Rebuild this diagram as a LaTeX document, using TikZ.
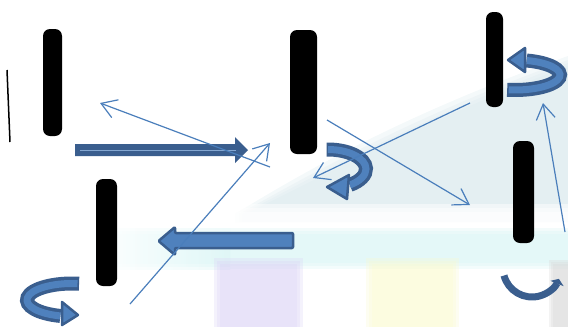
\documentclass[tikz,border=0pt]{standalone}
\usetikzlibrary{arrows.meta}
\definecolor{arrowdark}{HTML}{3A5E8E}
\definecolor{arrowlight}{HTML}{4F81BD}
\definecolor{linkblue}{HTML}{4A7EBB}
\definecolor{bghill}{HTML}{DCEAEE}
\definecolor{bgcyan}{HTML}{D6F4F4}
\definecolor{bglilac}{HTML}{DCD4F6}
\definecolor{bgyellow}{HTML}{FAFAD0}
\definecolor{bggray}{HTML}{D8D8D8}
\begin{document}
\begin{tikzpicture}[x=1pt,y=-1pt,
  bar/.style={fill=black, rounded corners=7pt, inner sep=0pt},
  link/.style={draw=linkblue, line width=1.2pt,
    -{Straight Barb[length=15pt,width=19pt,line width=1.2pt]}},
  bandout/.style={draw=arrowdark, line width=14pt},
  bandin/.style={draw=arrowlight, line width=7pt},
  uhead/.style={fill=arrowlight, draw=arrowdark, line width=2.5pt, line join=round},
  blockdark/.style={fill=arrowdark},
  blocklight/.style={fill=arrowlight, draw=arrowdark, line width=2.5pt, line join=round},
  haze/.style={fill=#1, opacity=0.3}]
\useasboundingbox (0,0) rectangle (568,327);

% soft backdrop: hill, bright strip, cyan strip and coloured blocks, each
% built from a few translucent layers so the edges blur out
\foreach \d in {10,6,3,0}
  \fill[haze=bghill] (245-\d,214) .. controls (320-\d,178-\d) and (420-\d,122-\d) .. (568,66-\d) -- (568,222) -- (245-\d,222) -- cycle;
\foreach \d in {0,4,8}
  \fill[white, opacity=0.5] (230,{204+\d}) rectangle (568,{232-\d/2});
\foreach \d in {6,3,0}
  \shade[left color=white, right color=bgcyan, opacity=0.4] (90,{234-\d}) rectangle (230,{263+\d});
\foreach \d in {6,3,0}
  \fill[haze=bgcyan] (230,{234-\d}) rectangle (568,{263+\d});
\foreach \d in {6,3,0}
  \fill[haze=bglilac] ({220-\d},{264-\d}) rectangle ({297+\d},327);
\foreach \d in {6,3,0}
  \fill[haze=bgyellow] ({372-\d},{264-\d}) rectangle ({453+\d},327);
\foreach \d in {4,2,0}
  \fill[haze=bggray] ({553-\d},{264-\d}) rectangle (568,327);

% thin black stroke on the left
\draw[black, line width=1.5pt] (7,70) coordinate (m1) -- (10,142) coordinate (m2);

% black rods
\node[bar, minimum width=19pt, minimum height=107pt] (b1) at (52.5,82.5) {};
\node[bar, minimum width=27pt, minimum height=124pt] (b2) at (303.5,92) {};
\node[bar, minimum width=17pt, minimum height=95pt]  (b3) at (494.5,59.5) {};
\node[bar, minimum width=21pt, minimum height=102pt] (b4) at (523.5,192) {};
\node[bar, minimum width=21pt, minimum height=107pt] (b5) at (106.5,232.5) {};

% straight block arrows
\fill[blockdark] (75,144) -- (235,144) -- (235,137) -- (248,150) -- (235,163) -- (235,156) -- (75,156) -- cycle;
\draw[arrowlight!70!white, line width=1pt] (80,150) -- (236,150);
\draw[blocklight, rounded corners=1pt] (293,233) -- (175,233) -- (175,227) -- (158.5,241) -- (175,255) -- (175,248) -- (293,248) -- cycle;

% turning arrow below rod b2
\coordinate (u1) at (328,169);
\draw[bandout] ([shift={(-92:38 and 19.5)}]u1) arc[start angle=-92, end angle=55, x radius=38, y radius=19.5];
\draw[bandin]  ([shift={(-90:38 and 19.5)}]u1) arc[start angle=-90, end angle=55, x radius=38, y radius=19.5];
\draw[uhead] (349,175) -- (327,187) -- (347,199) -- cycle;

% turning arrow beside rod b3
\coordinate (u2) at (515,75);
\draw[bandout] ([shift={(100:45 and 15)}]u2) arc[start angle=100, end angle=-75, x radius=45 , y radius=15];
\draw[bandin]  ([shift={(98:45 and 15)}]u2) arc[start angle=98, end angle=-75, x radius=45 , y radius=15];
\draw[uhead] (525,48) -- (508,60) -- (525,72) -- cycle;

% turning arrow below rod b5
\coordinate (u3) at (72,300);
\draw[bandout] ([shift={(-81:45 and 16.5)}]u3) arc[start angle=-81, end angle=-255, x radius=45, y radius=16.5];
\draw[bandin]  ([shift={(-83:45 and 16.5)}]u3) arc[start angle=-83, end angle=-255, x radius=45, y radius=16.5];
\draw[uhead] (62,302) -- (78,315) -- (62,325) -- cycle;

% small arc below rod b4
\coordinate (u4) at (532,268);
\draw[arrowdark, line width=7pt, -{Triangle[length=5pt,width=14pt]}]
  ([shift={(165:29)}]u4) arc[start angle=165, end angle=22, radius=29];

% thin connectors
\coordinate (c1s) at (270,167); \coordinate (c1e) at (100,103);
\coordinate (c2s) at (130,304); \coordinate (c2e) at (270,143);
\coordinate (c3s) at (327,120); \coordinate (c3e) at (470,205);
\coordinate (c4s) at (470,103); \coordinate (c4e) at (313,178);
\coordinate (c5s) at (565,232); \coordinate (c5e) at (543,103);
\draw[link] (c1s) -- (c1e);
\draw[link] (c2s) -- (c2e);
\draw[link] (c3s) -- (c3e);
\draw[link] (c4s) -- (c4e);
\draw[link] (c5s) -- (c5e);
\end{tikzpicture}
\end{document}
